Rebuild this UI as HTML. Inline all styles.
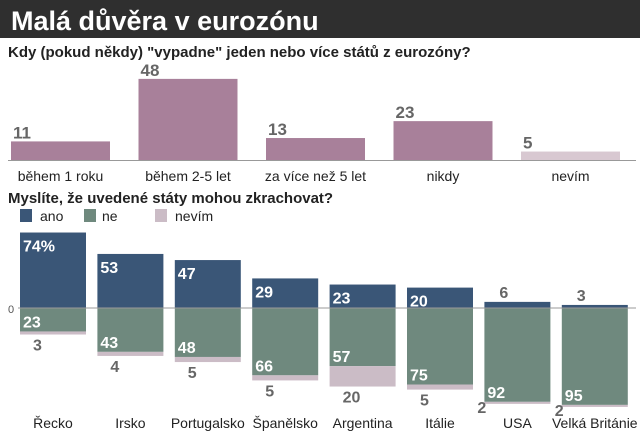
<!DOCTYPE html>
<html><head><meta charset="utf-8"><style>
body{margin:0;background:#fff;width:640px;height:438px;overflow:hidden;font-family:"Liberation Sans",sans-serif}
</style></head><body>
<svg width="640" height="438" xmlns="http://www.w3.org/2000/svg" font-family="Liberation Sans, sans-serif">
<rect x="0" y="0" width="640" height="38" fill="#2f2f2f"/>
<text x="11" y="30" font-size="27" font-weight="bold" fill="#fff">Malá důvěra v eurozónu</text>
<text x="8" y="57" font-size="15" font-weight="bold" fill="#222">Kdy (pokud někdy) "vypadne" jeden nebo více států z eurozóny?</text>
<text x="8" y="203" font-size="15" font-weight="bold" fill="#222">Myslíte, že uvedené státy mohou zkrachovat?</text>
<g>
<rect x="20" y="209" width="12" height="13" fill="#3a5677"/>
<text x="40" y="221" font-size="14" fill="#222">ano</text>
<rect x="84" y="209" width="12" height="13" fill="#6f897e"/>
<text x="102" y="221" font-size="14" fill="#222">ne</text>
<rect x="155" y="209" width="12" height="13" fill="#cbbcc6"/>
<text x="175" y="221" font-size="14" fill="#222">nevím</text>
</g>
<g id="top"></g><g id="bot"></g>
</svg>
<script>
const topCats=["během 1 roku","během 2-5 let","za více než 5 let","nikdy","nevím"];
const topVals=[11,48,13,23,5];
const countries=["Řecko","Irsko","Portugalsko","Španělsko","Argentina","Itálie","USA","Velká Británie"];
const ano=[74,53,47,29,23,20,6,3];
const ne=[23,43,48,66,57,75,92,95];
const nevim=[3,4,5,5,20,5,2,2];
const NS="http://www.w3.org/2000/svg";
function mk(p,t,a,txt){const e=document.createElementNS(NS,t);for(const k in a)e.setAttribute(k,a[k]);if(txt!=null)e.textContent=txt;p.appendChild(e);return e;}
const T=document.getElementById('top'),B=document.getElementById('bot');
const tBase=160,tScale=1.69,tX=i=>11+i*127.5,tW=99;
const yT=v=>tBase-v*tScale;
topVals.forEach((v,i)=>{
 const r=mk(T,'rect',{x:tX(i),y:yT(v),width:tW,height:tBase-yT(v),fill:i==4?'#d8c8d1':'#a8809a'});
 
 
 const l=mk(T,'text',{x:tX(i)+2,y:yT(v)-3,'font-size':17,'font-weight':'bold',fill:'#666'},v);
 
 
 const c=mk(T,'text',{x:tX(i)+tW/2,y:181,'font-size':14,fill:'#222','text-anchor':'middle'},topCats[i]);
 
 
});
const tl=mk(T,'line',{x1:8,x2:636,y1:tBase+0.5,y2:tBase+0.5,stroke:'#999','stroke-width':1});


const z=308,s=1.02,bX=i=>20+i*77.4,bW=66;
const yB=v=>z-v*s;
countries.forEach((c,i)=>{
 const x=bX(i);
 let r=mk(B,'rect',{x:x,y:yB(ano[i]),width:bW,height:ano[i]*s,fill:'#3a5677'});
 
 
 r=mk(B,'rect',{x:x,y:z,width:bW,height:ne[i]*s,fill:'#6f897e'});
 
 
 r=mk(B,'rect',{x:x,y:z+ne[i]*s,width:bW,height:nevim[i]*s,fill:'#cbbcc6'});
 
 
 const small=ano[i]<10;
 let l=mk(B,'text',{x:small?x+15:x+3,y:small?yB(ano[i])-4:yB(ano[i])+19,'font-size':16,'font-weight':'bold',fill:small?'#666':'#fff'},ano[i]+(i==0?'%':''));
 
 
 l=mk(B,'text',{x:x+3,y:z+ne[i]*s-4,'font-size':16,'font-weight':'bold',fill:'#fff'},ne[i]);
 
 
 const bot=z+(ne[i]+nevim[i])*s;
 l=mk(B,'text',{x:i>=6?x-7:x+13,y:i>=6?bot+9:bot+16,'font-size':16,'font-weight':'bold',fill:'#666'},nevim[i]);
 
 
 l=mk(B,'text',{x:x+bW/2,y:428,'font-size':14,fill:'#222','text-anchor':'middle'},c);
 
 
});
const zl=mk(B,'line',{x1:18,x2:636,y1:z,y2:z,stroke:'#999','stroke-width':1});


const zt=mk(B,'text',{x:8,y:313,'font-size':11,fill:'#555'},'0');


</script>
</body></html>
